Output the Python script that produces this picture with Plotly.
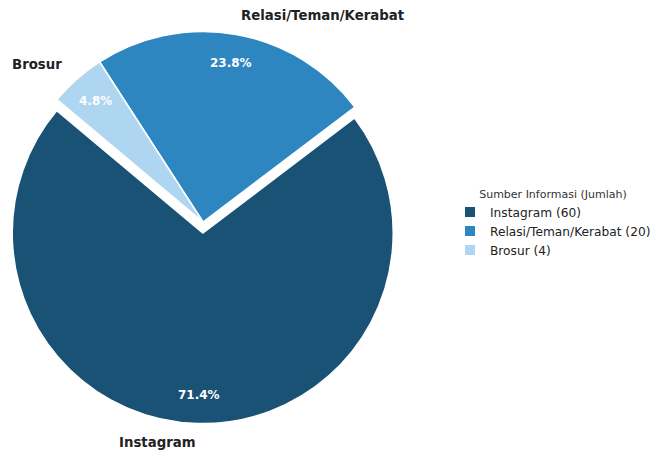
import math
import plotly.graph_objects as go

categories = ["Instagram", "Relasi/Teman/Kerabat", "Brosur"]
counts = [60, 20, 4]
colors = ["#1a5276", "#2e86c1", "#aed6f1"]
explode = [0.058, 0, 0]
start_angle = 140  # degrees, counterclockwise from 3 o'clock

W, H = 650, 454
# pie geometry (pixels)
cx_px, cy_px = 203, 222
r_target = 190.5
maxpull = max(explode)
box = 2 * r_target * (1 + maxpull)
r_px = box / (2 + 2 * maxpull)

dom_x = [(cx_px - box / 2) / W, (cx_px + box / 2) / W]
dom_y = [1 - (cy_px + box / 2) / H, 1 - (cy_px - box / 2) / H]

legend_names = [f"{c} ({v})" for c, v in zip(categories, counts)]
total = sum(counts)

# plotly counterclockwise: first slice ends (clockwise sense) at rotation
rotation = (90 - start_angle) - 360 * counts[0] / total

fig = go.Figure()
fig.add_trace(go.Pie(
    labels=legend_names,
    values=counts,
    sort=False,
    direction="counterclockwise",
    rotation=rotation,
    pull=explode,
    marker=dict(colors=colors, line=dict(color="white", width=1.5)),
    textinfo="none",
    hoverinfo="label+percent",
    domain=dict(x=dom_x, y=dom_y),
))

ang = start_angle
annotations = []
for c, v, ex in zip(categories, counts, explode):
    span = 360 * v / total
    mid = math.radians(ang + span / 2)
    ang += span
    ox = cx_px + ex * r_px * math.cos(mid)
    oy = cy_px - ex * r_px * math.sin(mid)
    # outside label
    lx = ox + 1.1 * r_px * math.cos(mid)
    ly = oy - 1.1 * r_px * math.sin(mid)
    annotations.append(dict(
        x=lx / W, y=1 - ly / H, xref="paper", yref="paper",
        text=f"<b>{c}</b>", showarrow=False,
        xanchor="left" if math.cos(mid) >= 0 else "right", yanchor="middle",
        font=dict(family="DejaVu Sans", size=13.3, color="#222222"),
    ))
    # percentage
    px = ox + 0.85 * r_px * math.cos(mid)
    py = oy - 0.85 * r_px * math.sin(mid)
    annotations.append(dict(
        x=px / W, y=1 - py / H, xref="paper", yref="paper",
        text=f"<b>{100 * v / total:.1f}%</b>", showarrow=False,
        xanchor="center", yanchor="middle",
        font=dict(family="DejaVu Sans", size=12, color="white"),
    ))

fig.update_layout(
    width=W, height=H,
    margin=dict(l=0, r=0, t=0, b=0, autoexpand=False),
    paper_bgcolor="white",
    plot_bgcolor="white",
    font=dict(family="DejaVu Sans", size=12, color="#222222"),
    annotations=annotations,
    showlegend=True,
    legend=dict(
        x=450 / W, y=0.506, xanchor="left", yanchor="middle",
        title=dict(text="Sumber Informasi (Jumlah)", font=dict(size=11, color="#333333"), side="top center"),
        font=dict(size=12.2, color="#222222"),
        bgcolor="rgba(0,0,0,0)",
        tracegroupgap=0,
        itemsizing="constant",
    ),
)

fig.write_html("out.html")
